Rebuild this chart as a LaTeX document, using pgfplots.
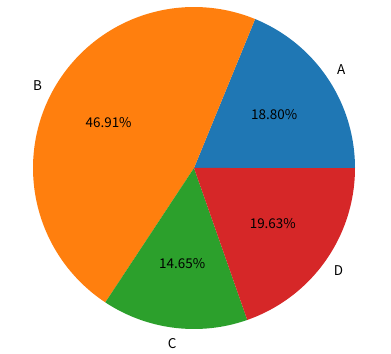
\documentclass[border=0pt]{standalone}
\usepackage{pgfplots}
\pgfplotsset{compat=1.18}
\usepackage{fontspec}
\setmainfont{Noto Sans CJK SC}
\definecolor{cA}{HTML}{1F77B4}
\definecolor{cB}{HTML}{FF7F0E}
\definecolor{cC}{HTML}{2CA02C}
\definecolor{cD}{HTML}{D62728}
% percentages
\def\pA{18.80}\def\pB{46.91}\def\pC{14.65}\def\pD{19.63}
\pgfmathsetmacro{\tot}{\pA+\pB+\pC+\pD}
\pgfmathsetmacro{\aA}{0}
\pgfmathsetmacro{\aB}{\aA+\pA/\tot*360}
\pgfmathsetmacro{\aC}{\aB+\pB/\tot*360}
\pgfmathsetmacro{\aD}{\aC+\pC/\tot*360}
\pgfmathsetmacro{\aE}{360}
\begin{document}
\begin{tikzpicture}
\begin{axis}[
  scale only axis, width=391bp, height=354bp,
  xmin=-1.205, xmax=1.2236, ymin=-1.1553, ymax=1.0435,
  hide axis, clip=false,
  font=\fontsize{13.5}{16}\selectfont,
]
\path (rel axis cs:0,0) rectangle (rel axis cs:1,1);
\addplot[fill=cA, draw=none, domain=\aA:\aB, samples=80, variable=\t] ({cos(\t)},{sin(\t)}) -- (axis cs:0,0) -- cycle;
\addplot[fill=cB, draw=none, domain=\aB:\aC, samples=120, variable=\t] ({cos(\t)},{sin(\t)}) -- (axis cs:0,0) -- cycle;
\addplot[fill=cC, draw=none, domain=\aC:\aD, samples=80, variable=\t] ({cos(\t)},{sin(\t)}) -- (axis cs:0,0) -- cycle;
\addplot[fill=cD, draw=none, domain=\aD:\aE, samples=80, variable=\t] ({cos(\t)},{sin(\t)}) -- (axis cs:0,0) -- cycle;
\foreach \s/\e/\lab/\p in {\aA/\aB/A/18.80,\aB/\aC/B/46.91,\aC/\aD/C/14.65,\aD/\aE/D/19.63}{
  \pgfmathsetmacro{\m}{(\s+\e)/2}
  \edef\tmp{\noexpand\node at (axis cs:{1.1*cos(\m)},{1.1*sin(\m)}) {\lab};
    \noexpand\node at (axis cs:{0.6*cos(\m)},{0.6*sin(\m)}) {\p\noexpand\%};}
  \tmp
}
\end{axis}
\end{tikzpicture}
\end{document}
